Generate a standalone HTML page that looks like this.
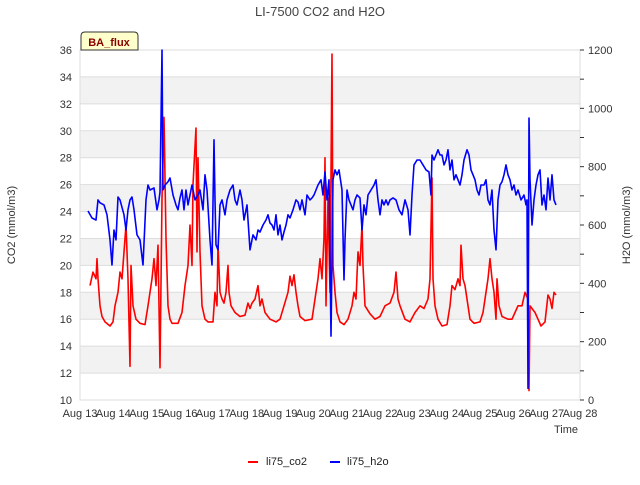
<!DOCTYPE html>
<html><head><meta charset="utf-8"><style>
body{margin:0;background:#fff;width:640px;height:480px;overflow:hidden}
svg{font-family:"Liberation Sans",sans-serif}
</style></head><body>
<svg id="chart" width="640" height="480">
<text x="320" y="16" text-anchor="middle" font-size="13" fill="#444">LI-7500 CO2 and H2O</text>
<g id="bands"></g><g id="grid"></g>
<rect x="80" y="50" width="500" height="350" fill="none" stroke="#ddd"/>
<g id="axes"></g><g id="series"></g>
<text x="15" y="225" transform="rotate(-90 15 225)" text-anchor="middle" font-size="11" fill="#333">CO2 (mmol/m3)</text>
<text x="630" y="225" transform="rotate(-90 630 225)" text-anchor="middle" font-size="11" fill="#333">H2O (mmol/m3)</text>
<text x="578" y="433" text-anchor="end" font-size="11" fill="#333">Time</text>
<g><path d="M81,50 L81,36 Q81,32 85,32 L134,32 Q138,32 138,36 L138,50 Z" fill="#ffffcc" stroke="#333"/><text x="109" y="46" text-anchor="middle" font-size="11" font-weight="bold" fill="#8b0000">BA_flux</text></g>
<g>
<line x1="248" y1="462" x2="258" y2="462" stroke="red" stroke-width="2"/>
<text x="266" y="465" font-size="11" fill="#222">li75_co2</text>
<line x1="330" y1="462" x2="340" y2="462" stroke="blue" stroke-width="2"/>
<text x="347" y="465" font-size="11" fill="#222">li75_h2o</text>
</g>
</svg>
<script>
const xLabels=["Aug 13","Aug 14","Aug 15","Aug 16","Aug 17","Aug 18","Aug 19","Aug 20","Aug 21","Aug 22","Aug 23","Aug 24","Aug 25","Aug 26","Aug 27","Aug 28"];
const leftTicks=[10,12,14,16,18,20,22,24,26,28,30,32,34,36];
const rightTicks=[0,200,400,600,800,1000,1200];
const co2Times=[0.30,0.39,0.48,0.51,0.54,0.60,0.66,0.75,0.90,0.99,1.05,1.14,1.20,1.26,1.32,1.38,1.44,1.50,1.53,1.59,1.68,1.80,1.95,2.04,2.10,2.16,2.22,2.28,2.34,2.40,2.46,2.52,2.58,2.64,2.70,2.76,2.94,3.06,3.15,3.24,3.30,3.36,3.39,3.48,3.51,3.54,3.60,3.66,3.75,3.84,3.99,4.05,4.11,4.14,4.20,4.26,4.32,4.38,4.44,4.47,4.53,4.65,4.80,4.95,5.04,5.10,5.16,5.25,5.34,5.40,5.46,5.55,5.70,5.88,6.00,6.12,6.24,6.30,6.36,6.42,6.48,6.54,6.60,6.75,6.96,7.05,7.14,7.20,7.26,7.32,7.35,7.38,7.44,7.50,7.56,7.59,7.65,7.71,7.80,7.92,8.04,8.16,8.22,8.28,8.34,8.40,8.46,8.49,8.55,8.70,8.85,9.00,9.15,9.30,9.42,9.48,9.54,9.60,9.75,9.90,10.05,10.20,10.32,10.44,10.50,10.56,10.59,10.65,10.74,10.86,11.01,11.10,11.16,11.25,11.34,11.40,11.43,11.49,11.55,11.64,11.70,11.82,12.00,12.09,12.18,12.24,12.30,12.36,12.42,12.48,12.51,12.57,12.66,12.84,12.96,13.05,13.14,13.26,13.35,13.44,13.47,13.50,13.56,13.65,13.74,13.83,13.95,14.04,14.10,14.16,14.22,14.28];
const co2Values=[18.5,19.5,19,20.5,19,17,16.2,15.8,15.5,15.8,17,18,19.5,19,21,23,19,12.5,20,17,16,15.7,15.6,17,18,19,20.5,18.5,21.5,12.4,25,31,22,17,16,15.7,15.7,16.5,18.5,20,23,20,26,30.2,21,28,21,17,16,15.8,15.8,18,17,21.5,18,17.5,17.2,18,20,18,17,16.5,16.2,16.3,17.2,16.8,17.2,17.5,18.5,17,17.5,16.5,16,15.8,16,17,18,19.2,18.5,19.3,18,17,16.2,15.9,16,17.5,19,20.5,19,22,28,17,25,18,35.7,20,18,16.5,15.8,15.6,16,17,18,17.5,21,20,23,20,17,16.4,16,16.2,17,17.2,18,19.5,17.5,17,16,15.8,16.5,17,16.8,17.5,19,26.5,19,17,16,15.5,15.6,17,18.5,18.2,19,18.5,21.5,19,18.5,17,16,15.7,15.8,16.5,18,19,20.5,19,18,16,19,17,16.2,16,16,16.5,17,17,18,17.5,10.7,17,16.8,16.5,16,15.5,15.8,17.8,17.5,16.8,18,17.8];
const h2oTimes=[0.24,0.36,0.48,0.54,0.60,0.72,0.81,0.90,0.96,1.02,1.08,1.14,1.20,1.32,1.38,1.44,1.50,1.56,1.62,1.71,1.80,1.89,1.98,2.04,2.10,2.22,2.31,2.37,2.40,2.46,2.49,2.55,2.64,2.70,2.79,2.88,2.94,3.00,3.06,3.12,3.18,3.24,3.30,3.36,3.45,3.54,3.60,3.69,3.75,3.81,3.90,3.96,4.02,4.05,4.08,4.14,4.20,4.26,4.35,4.41,4.50,4.59,4.65,4.71,4.80,4.86,4.92,5.01,5.10,5.19,5.28,5.34,5.40,5.49,5.58,5.64,5.70,5.76,5.82,5.88,5.94,6.00,6.06,6.12,6.18,6.24,6.30,6.39,6.48,6.54,6.60,6.66,6.75,6.81,6.90,6.96,7.02,7.14,7.23,7.29,7.35,7.41,7.47,7.53,7.59,7.65,7.71,7.77,7.86,7.92,7.95,8.01,8.07,8.13,8.19,8.25,8.31,8.40,8.46,8.52,8.58,8.64,8.73,8.82,8.88,8.94,9.00,9.06,9.12,9.18,9.24,9.30,9.39,9.48,9.57,9.66,9.75,9.84,9.90,9.96,10.02,10.11,10.20,10.29,10.38,10.47,10.53,10.56,10.62,10.68,10.74,10.80,10.86,10.92,10.98,11.04,11.10,11.16,11.22,11.28,11.34,11.40,11.46,11.52,11.61,11.67,11.73,11.79,11.85,11.91,11.97,12.03,12.12,12.18,12.24,12.30,12.36,12.42,12.48,12.54,12.60,12.66,12.72,12.78,12.84,12.90,12.96,13.02,13.08,13.14,13.23,13.32,13.38,13.41,13.44,13.47,13.50,13.56,13.62,13.68,13.74,13.80,13.86,13.92,13.98,14.04,14.10,14.16,14.22,14.28];
const h2oValues=[648,624,617,686,676,669,635,549,463,583,549,696,686,635,583,652,686,696,652,566,549,463,686,737,720,727,652,686,713,1200,720,737,748,761,703,669,652,693,720,652,720,669,703,737,686,703,720,652,772,720,549,463,892,686,532,515,669,686,635,686,720,737,686,669,720,686,617,669,515,566,549,583,576,600,617,635,607,600,583,635,566,600,549,576,600,635,624,652,686,679,652,686,635,703,686,693,703,737,755,703,782,686,755,219,755,789,772,789,720,412,549,720,686,669,652,686,703,693,583,669,635,703,720,737,755,686,635,686,669,686,669,686,693,686,652,635,686,652,566,703,806,823,823,806,789,782,703,840,823,840,858,840,840,806,823,858,789,823,755,772,755,737,772,823,858,840,789,772,755,720,703,737,737,755,686,669,720,583,515,686,737,748,772,806,772,755,720,737,703,720,686,703,669,686,40,967,755,600,686,737,772,789,669,703,652,761,686,772,686,669];
const NS="http://www.w3.org/2000/svg";
const X0=80,X1=580,Y0=50,Y1=400;
const xS=d=>X0+d*(X1-X0)/15;
const yL=v=>Y1-(v-10)*(Y1-Y0)/26;
const yR=v=>Y1-v*(Y1-Y0)/1200;
function mk(tag,attrs,parent){const e=document.createElementNS(NS,tag);for(const k in attrs)e.setAttribute(k,attrs[k]);document.getElementById(parent).appendChild(e);return e;}
for(let v=12;v<36;v+=4){
  const b=mk('rect',{x:X0,y:yL(v+2),width:X1-X0,height:yL(v)-yL(v+2),fill:'#f2f2f2'},'bands');
  
  
}
leftTicks.forEach(v=>{
  const g=mk('line',{x1:X0,x2:X1,y1:yL(v),y2:yL(v),stroke:'#ddd'},'grid');
  
  
  const t=mk('text',{x:72,y:yL(v)+4,'text-anchor':'end','font-size':11,fill:'#333'},'axes');
  t.textContent=v;
  
  
});
for(let v=0;v<=1200;v+=100){
  const tk=mk('line',{x1:X1,x2:X1+4,y1:yR(v),y2:yR(v),stroke:'#333'},'axes');
  
  
}
rightTicks.forEach(v=>{
  const t=mk('text',{x:588,y:yR(v)+4,'font-size':11,fill:'#333'},'axes');
  t.textContent=v;
  
  
});
xLabels.forEach((s,i)=>{
  const t=mk('text',{x:xS(i),y:417,'text-anchor':'middle','font-size':11,fill:'#333'},'axes');
  t.textContent=s;
  
  
});
const pc=mk('polyline',{points:co2Times.map((t,i)=>xS(t).toFixed(1)+','+yL(co2Values[i]).toFixed(1)).join(' '),fill:'none',stroke:'red','stroke-width':1.6,'stroke-linejoin':'round'},'series');


const ph=mk('polyline',{points:h2oTimes.map((t,i)=>xS(t).toFixed(1)+','+yR(h2oValues[i]).toFixed(1)).join(' '),fill:'none',stroke:'blue','stroke-width':1.6,'stroke-linejoin':'round'},'series');


</script>
</body></html>
